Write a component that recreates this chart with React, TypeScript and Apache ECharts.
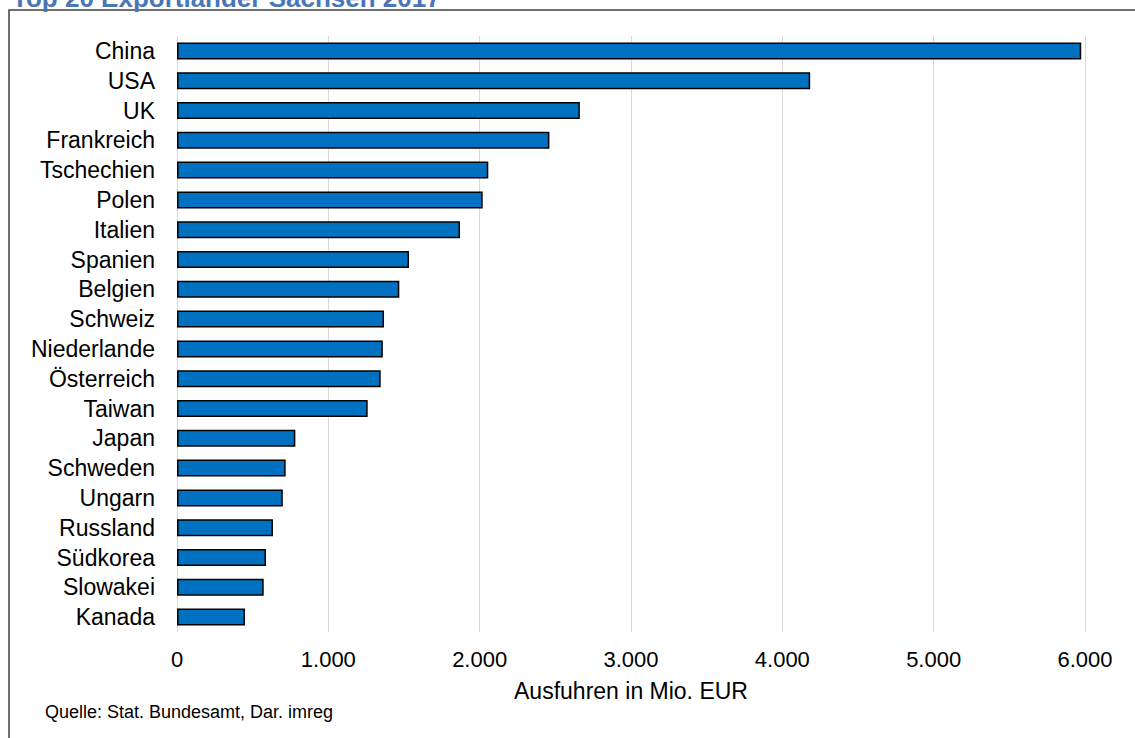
import React, { useEffect, useRef } from "react";
import * as echarts from "echarts";

const countries = [
  "China", "USA", "UK", "Frankreich", "Tschechien", "Polen", "Italien", "Spanien",
  "Belgien", "Schweiz", "Niederlande", "Österreich", "Taiwan", "Japan", "Schweden",
  "Ungarn", "Russland", "Südkorea", "Slowakei", "Kanada",
];
const exportsMio = [
  5975, 4184, 2662, 2461, 2057, 2020, 1870, 1533, 1469, 1368, 1360, 1346, 1260,
  782, 718, 699, 634, 588, 573, 449,
];
const xTicks = [0, 1000, 2000, 3000, 4000, 5000, 6000];
const titleText = "Top 20 Exportländer Sachsen 2017";
const axisNameText = "Ausfuhren in Mio. EUR";
const sourceText = "Quelle: Stat. Bundesamt, Dar. imreg";

const FONT = "Arial, 'Liberation Sans', sans-serif";

function fmt(v: number): string {
  return String(v).replace(/\B(?=(\d{3})+(?!\d))/g, ".");
}

export default function App() {
  const ref = useRef<HTMLDivElement>(null);
  useEffect(() => {
    if (!ref.current) return;
    const chart = echarts.init(ref.current, null, { renderer: "svg" });
    chart.setOption({
      animation: false,
      backgroundColor: "#ffffff",
      grid: { left: 177, right: 50, top: 36, bottom: 106, containLabel: false },
      xAxis: {
        type: "value",
        min: xTicks[0],
        max: xTicks[xTicks.length - 1],
        interval: 1000,
        axisLine: { show: false },
        axisTick: { show: false },
        splitLine: { show: true, lineStyle: { color: "#D9D9D9", width: 1 } },
        axisLabel: {
          margin: 16,
          fontSize: 22,
          color: "#000",
          fontFamily: FONT,
          formatter: (v: number) => fmt(v),
        },
        name: axisNameText,
        nameLocation: "middle",
        nameGap: 47,
        nameTextStyle: { fontSize: 23, color: "#000", fontFamily: FONT },
      },
      yAxis: {
        type: "category",
        data: countries,
        inverse: true,
        axisLine: { show: false },
        axisTick: { show: false },
        axisLabel: {
          interval: 0,
          margin: 22,
          fontSize: 23,
          color: "#000",
          fontFamily: FONT,
        },
      },
      series: [
        {
          type: "bar",
          data: exportsMio,
          barWidth: 17,
          itemStyle: { color: "#0070C0", borderColor: "#000", borderWidth: 1.5 },
        },
      ],
      graphic: [
        {
          type: "rect",
          shape: { x: 9, y: 10, width: 1300, height: 900 },
          style: { fill: "none", stroke: "#404040", lineWidth: 1.5 },
          silent: true,
        },
        {
          type: "text",
          x: 12,
          y: 11,
          style: {
            text: titleText,
            fontSize: 26,
            fontWeight: "bold",
            fontFamily: FONT,
            fill: "#4A76B8",
            verticalAlign: "bottom",
          },
        },
        {
          type: "text",
          x: 45,
          y: 712,
          style: {
            text: sourceText,
            fontSize: 18,
            fontFamily: FONT,
            fill: "#000",
            verticalAlign: "middle",
          },
        },
      ],
    });
    return () => chart.dispose();
  }, []);
  return (
    <div
      ref={ref}
      style={{ position: "fixed", left: 0, top: 0, width: 1135, height: 738 }}
    />
  );
}
